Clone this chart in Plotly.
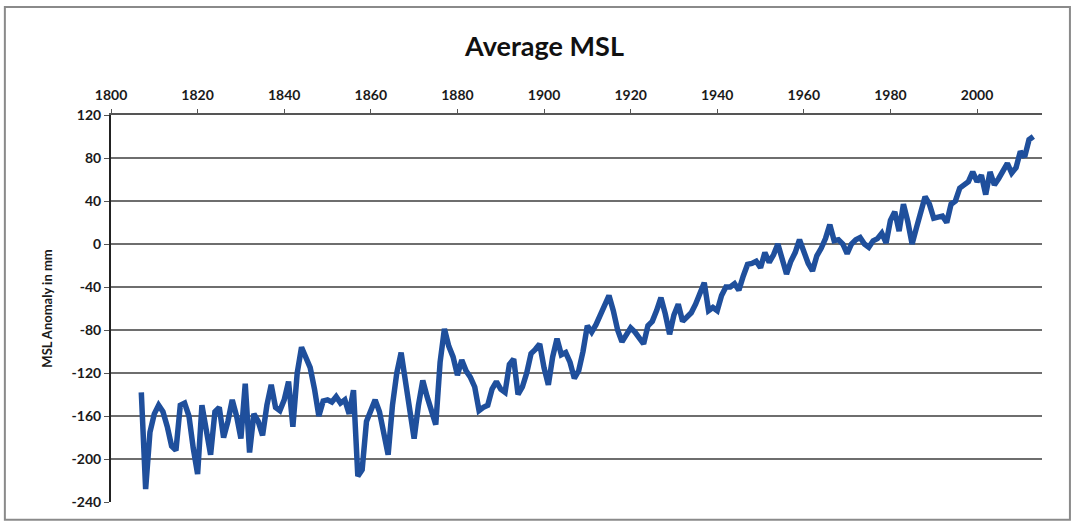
import plotly.graph_objects as go

years = list(range(1807, 2014))
msl = [
    -138, -228, -175, -158, -150, -156, -170, -188, -192, -150,   # 1807-1816
    -148, -160, -190, -214, -150, -170, -196, -156, -152, -180,   # 1817-1826
    -165, -145, -160, -181, -130, -194, -158, -165, -178, -150,   # 1827-1836
    -131, -152, -155, -145, -128, -170, -120, -96, -105, -115,    # 1837-1846
    -135, -160, -146, -145, -147, -142, -148, -145, -158, -136,   # 1847-1856
    -216, -210, -165, -155, -145, -156, -175, -196, -150, -120,   # 1857-1866
    -101, -130, -160, -181, -150, -127, -142, -155, -168, -110,   # 1867-1876
    -79, -95, -105, -122, -108, -118, -124, -133, -155, -152,     # 1877-1886
    -150, -135, -128, -135, -138, -112, -107, -140, -133, -120,   # 1887-1896
    -102, -98, -93, -115, -131, -105, -88, -103, -101, -110,      # 1897-1906
    -125, -118, -100, -76, -82, -75, -66, -56, -48, -62,          # 1907-1916
    -80, -91, -85, -78, -82, -88, -93, -76, -72, -62,             # 1917-1926
    -50, -65, -84, -66, -56, -72, -68, -64, -56, -45,             # 1927-1936
    -36, -62, -59, -62, -48, -40, -40, -37, -43, -30,             # 1937-1946
    -19, -18, -16, -22, -8, -17, -10, 0, -15, -28,                # 1947-1956
    -16, -8, 4, -9, -18, -25, -11, -4, 5, 18,                     # 1957-1966
    3, 4, 0, -9, 0, 4, 6, 0, -3, 3,                               # 1967-1976
    5, 10, 1, 22, 30, 12, 37, 21, 0, 15,                          # 1977-1986
    28, 44, 37, 24, 25, 26, 20, 37, 40, 52,                       # 1987-1996
    55, 58, 67, 58, 64, 46, 67, 55, 61, 68,                       # 1997-2006
    75, 66, 71, 86, 81, 97, 100                                   # 2007-2013
]

x_ticks = [1800, 1820, 1840, 1860, 1880, 1900, 1920, 1940, 1960, 1980, 2000]
y_ticks = [120, 80, 40, 0, -40, -80, -120, -160, -200, -240]

FONT = "Lato"

fig = go.Figure()
fig.add_trace(go.Scatter(
    x=years, y=msl, mode="lines",
    line=dict(color="#1f4f9c", width=5.5),
    showlegend=False,
))

fig.update_layout(
    width=1074, height=524,
    paper_bgcolor="white", plot_bgcolor="white",
    margin=dict(l=111, r=32, t=115, b=22),
    font=dict(family=FONT, color="#1a1a1a"),
    title=dict(
        text="<b>Average MSL</b>",
        x=0.507, xref="container", xanchor="center",
        y=1 - 47 / 524, yref="container", yanchor="middle",
        font=dict(family=FONT, size=27, color="#111111"),
    ),
    xaxis=dict(
        side="top", range=[1800, 2015],
        tickvals=x_ticks, ticktext=[str(v) for v in x_ticks],
        showgrid=False, zeroline=False,
        showline=True, linecolor="#555555", linewidth=2,
        ticks="outside", ticklen=4, tickcolor="#555555", tickwidth=1,
        tickfont=dict(family=FONT, size=14, color="#1a1a1a", weight="bold"),
        ticklabelstandoff=3,
    ),
    yaxis=dict(
        range=[-240, 120],
        tickvals=y_ticks, ticktext=[str(v) for v in y_ticks],
        showgrid=True, gridcolor="#6e6e6e", gridwidth=2,
        zeroline=False,
        showline=True, linecolor="#222222", linewidth=2,
        ticks="outside", ticklen=5, tickcolor="#555555", tickwidth=1,
        tickfont=dict(family=FONT, size=14, color="#1a1a1a", weight="bold"),
        title=dict(text="<b>MSL Anomaly in mm</b>",
                   font=dict(family=FONT, size=13, color="#1a1a1a", weight="bold"), standoff=16),
    ),
    shapes=[
        dict(type="rect", xref="paper", yref="paper",
             x0=-0.114, x1=1.030, y0=-0.046, y1=1.279,
             line=dict(color="#8a8a8a", width=2), fillcolor="rgba(0,0,0,0)", layer="below"),
    ],
)

fig.write_html(
    "out.html",
    config={"displayModeBar": False},
    post_script="document.body.style.margin='0';document.body.style.overflow='hidden';",
)
